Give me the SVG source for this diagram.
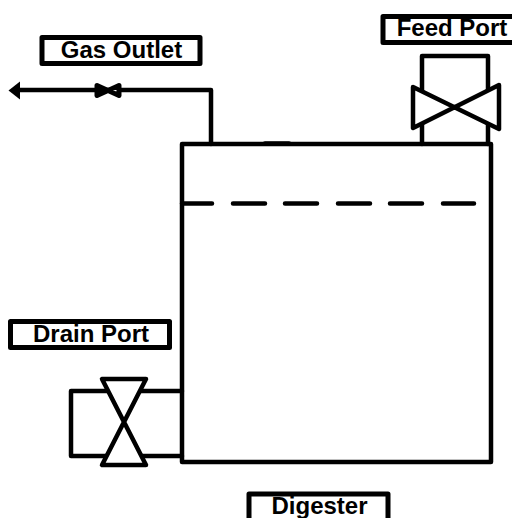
<svg xmlns="http://www.w3.org/2000/svg" width="512" height="518" viewBox="0 0 512 518">
<style>
.l{fill:none;stroke:#000;stroke-width:4.500;stroke-linejoin:round;stroke-linecap:round}
.v{fill:#fff;stroke:#000;stroke-width:4.500;stroke-linejoin:round}
.b{fill:#fff;stroke:#000;stroke-width:5;stroke-linejoin:round}
text{font-family:"Liberation Sans",Arial,sans-serif;font-weight:700;font-size:24px;fill:#000;text-anchor:middle}
</style>
<rect width="512" height="518" fill="#fff"/>
<g id="digester-tank">
<rect class="l" x="182" y="144" width="309" height="318"/>
<path class="l" d="M265 143.6H289"/>
<path class="l" d="M182 203.500H212M233 203.500H265M285 203.500H317M338 203.500H370M390 203.500H422M443 203.500H474"/>
</g>
<g id="connectors">
<path class="l" d="M20 90H211V144"/>
<path class="l" d="M422 144V56H488V144"/>
<path class="l" d="M182 391H71V456H182"/>
</g>
<g id="gas-arrow"><path d="M8.500 90.500L20 81.500V99.500Z" fill="#000"/></g>
<g id="gas-valve"><path d="M97 85.500L119 95.500V85.500L97 95.500Z" fill="#fff" stroke="#000" stroke-width="5" stroke-linejoin="round"/><path d="M97 86V95L106 90.500Z" fill="#000"/></g>
<g id="feed-valve"><path class="v" d="M413 87L499 129V85L413 128Z"/></g>
<g id="drain-valve"><path class="v" d="M102 379H146L102 465H146Z"/></g>
<g id="gas-outlet-label"><rect class="b" x="42" y="37.500" width="158" height="26"/><text x="121.500" y="58">Gas Outlet</text></g>
<g id="feed-port-label"><rect class="b" x="383" y="16.500" width="135" height="26"/><text x="452" y="36">Feed Port</text></g>
<g id="drain-port-label"><rect class="b" x="10.500" y="321.500" width="159" height="26"/><text x="91" y="342">Drain Port</text></g>
<g id="digester-label"><rect class="b" x="249" y="494" width="139" height="34"/><text x="319.500" y="514">Digester</text></g>
</svg>
